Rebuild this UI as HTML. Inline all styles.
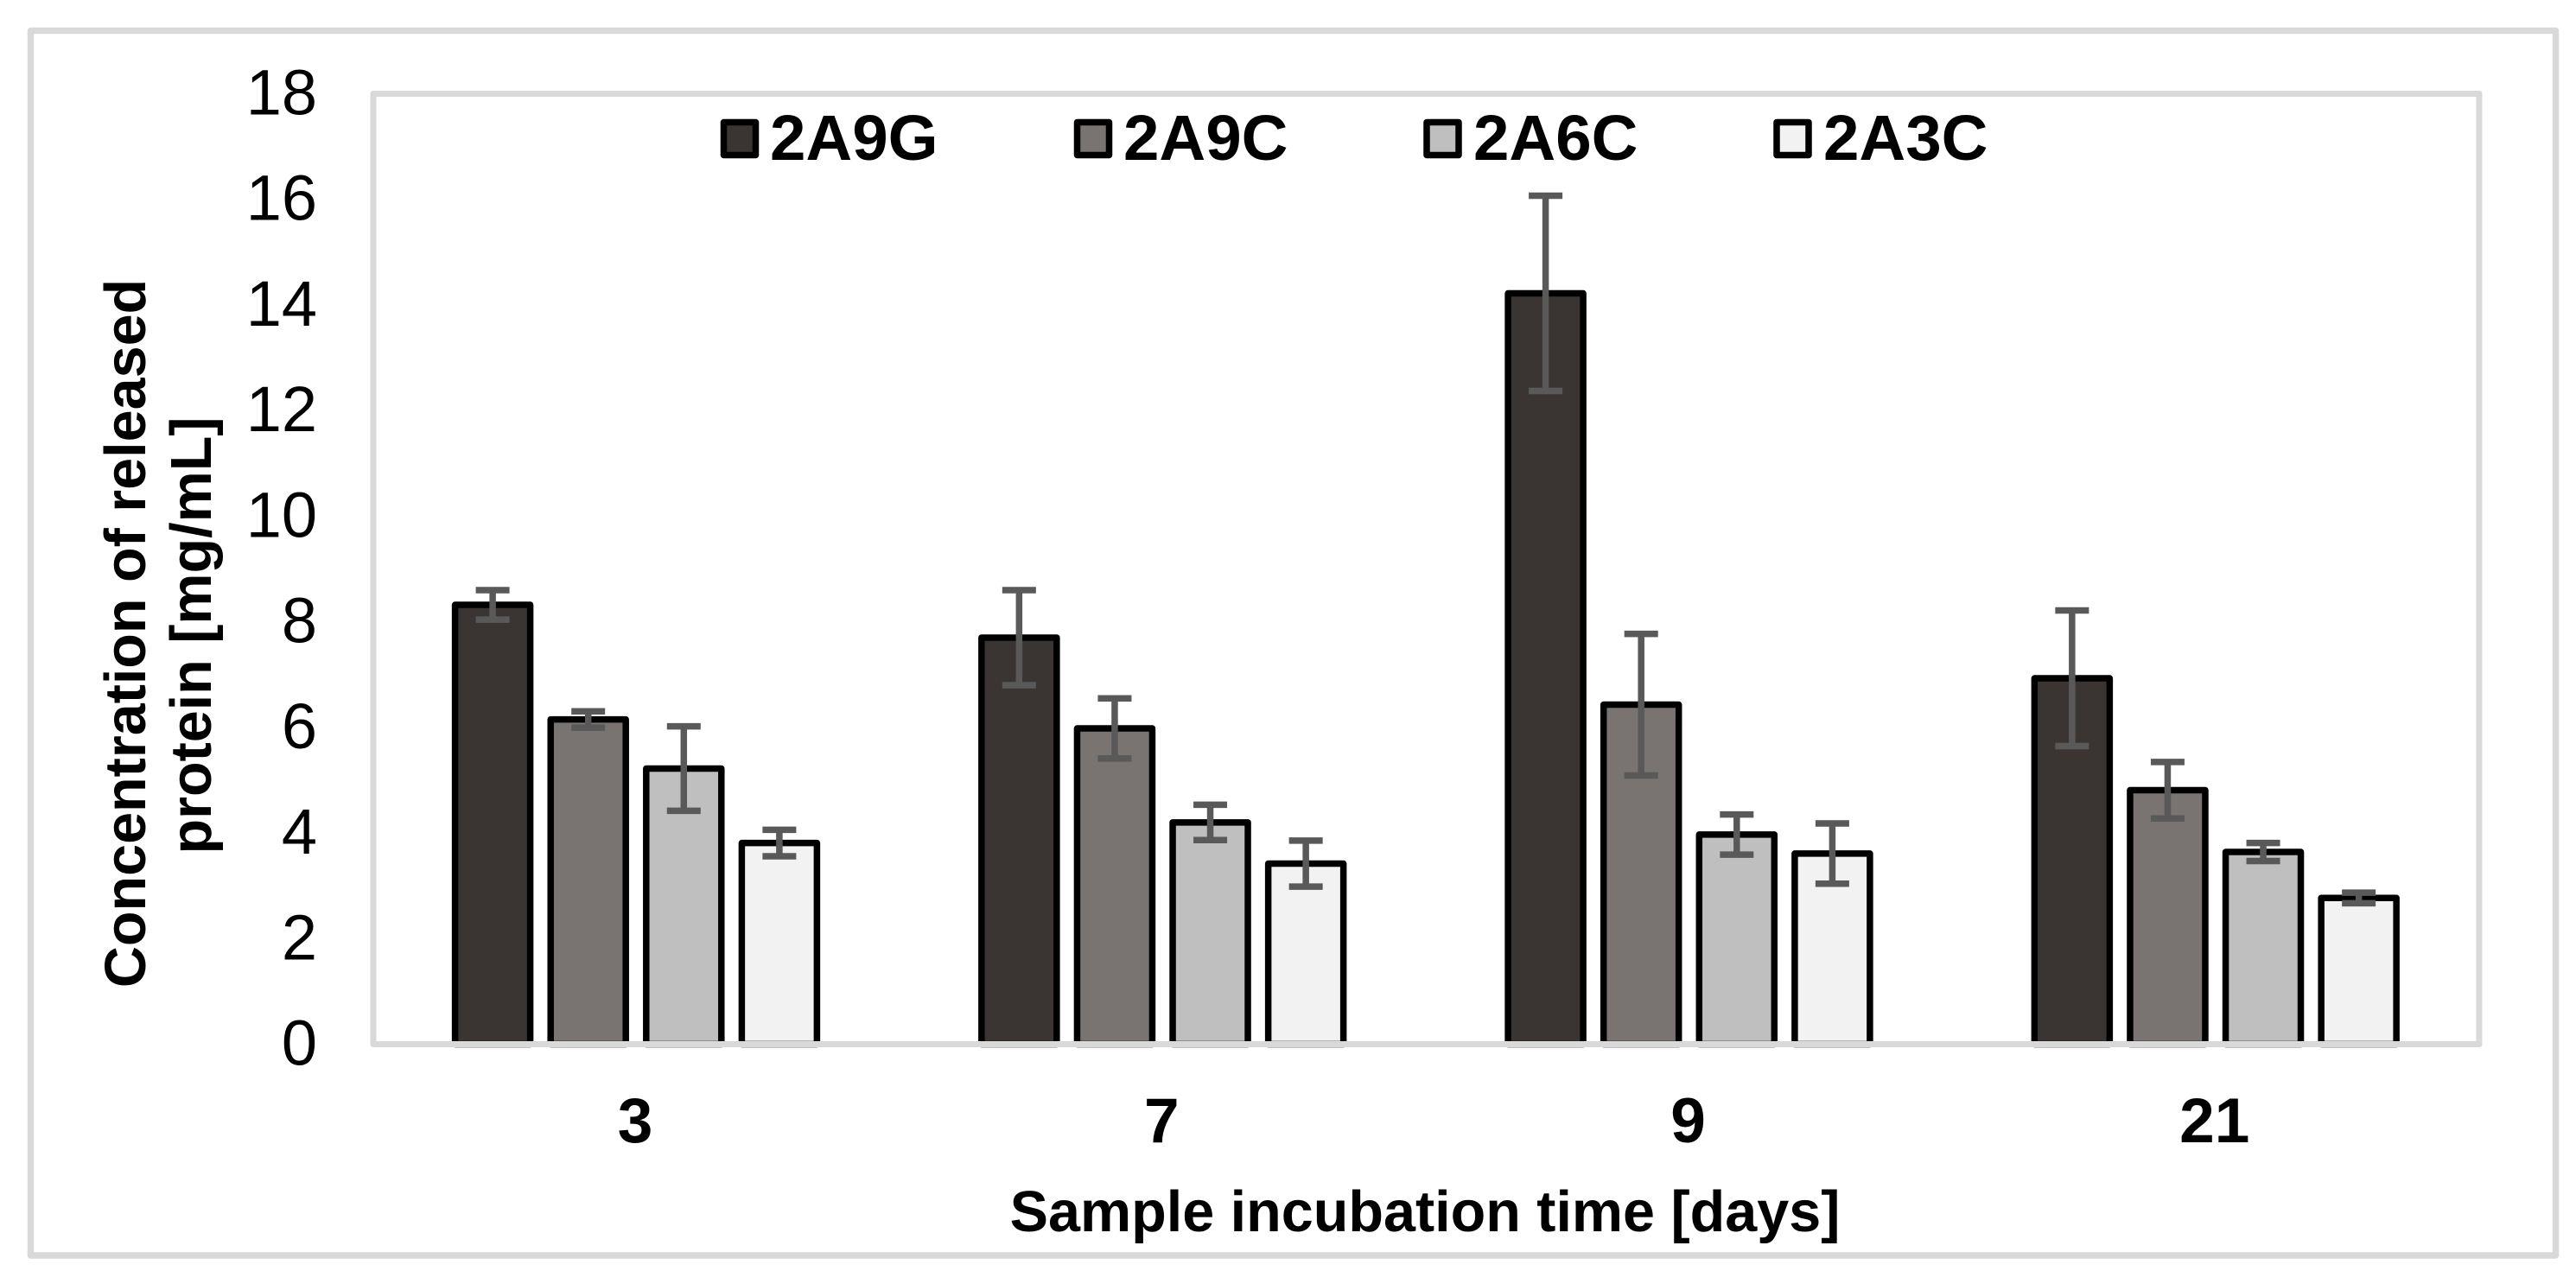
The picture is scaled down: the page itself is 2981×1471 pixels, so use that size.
<!DOCTYPE html>
<html lang="en">
<head>
<meta charset="utf-8">
<title>Concentration of released protein</title>
<style>
  html, body { margin: 0; padding: 0; background: #fff; }
  body { width: 2981px; height: 1471px; overflow: hidden; }
  svg { display: block; font-family: "Liberation Sans", sans-serif; }
</style>
</head>
<body>
<svg id="chart" xmlns="http://www.w3.org/2000/svg" width="2981" height="1471" viewBox="0 0 2981 1471">
  <rect x="0" y="0" width="2981" height="1471" fill="#ffffff"/>
  <rect x="35.5" y="35.5" width="2922" height="1417.5" fill="none" stroke="#d9d9d9" stroke-width="7.5" stroke-linejoin="round"/>
  <g id="y-ticks"></g>
  <g id="bars"></g>
  <rect x="432" y="108.5" width="2437" height="1100" fill="none" stroke="#d9d9d9" stroke-width="7" stroke-linejoin="round"/>
  <g id="errors"></g>
  <g id="x-ticks"></g>

  <g font-size="74.5" font-weight="bold" fill="#000">
    <g>
      <rect x="837.5" y="141.5" width="37" height="38" fill="#3a3533" stroke="#000" stroke-width="7.5" stroke-linejoin="round"/>
      <text x="891" y="185">2A9G</text>
    </g>
    <g>
      <rect x="1246.5" y="141.5" width="37" height="38" fill="#797372" stroke="#000" stroke-width="7.5" stroke-linejoin="round"/>
      <text x="1300" y="185">2A9C</text>
    </g>
    <g>
      <rect x="1651" y="141.5" width="37" height="38" fill="#bfbfbf" stroke="#000" stroke-width="7.5" stroke-linejoin="round"/>
      <text x="1705" y="185">2A6C</text>
    </g>
    <g>
      <rect x="2056" y="141.5" width="37" height="38" fill="#f2f2f2" stroke="#000" stroke-width="7.5" stroke-linejoin="round"/>
      <text x="2110" y="185">2A3C</text>
    </g>
  </g>

  <g font-size="66.5" font-weight="bold" fill="#000" text-anchor="middle">
    <text transform="translate(168 733) rotate(-90)">Concentration of released</text>
    <text transform="translate(244 735.5) rotate(-90)">protein [mg/mL]</text>
  </g>
  <text x="1649" y="1425" font-size="66.5" font-weight="bold" fill="#000" text-anchor="middle">Sample incubation time [days]</text>
</svg>
<script>
const categories = ['3', '7', '9', '21'];
const yTickValues = [0, 2, 4, 6, 8, 10, 12, 14, 16, 18];
const seriesNames = ['2a9g', '2a9c', '2a6c', '2a3c'];
const seriesColors = ['#3a3533', '#797372', '#bfbfbf', '#f2f2f2'];

const values2A9G = [8.32, 7.70, 14.22, 6.93];
const values2A9C = [6.15, 5.98, 6.43, 4.81];
const values2A6C = [5.22, 4.20, 3.97, 3.64];
const values2A3C = [3.81, 3.42, 3.61, 2.77];

const errors2A9G = [0.28, 0.90, 1.85, 1.285];
const errors2A9C = [0.155, 0.57, 1.34, 0.535];
const errors2A6C = [0.80, 0.335, 0.38, 0.17];
const errors2A3C = [0.25, 0.435, 0.57, 0.10];

const SVG_NS = 'http://www.w3.org/2000/svg';
const seriesValues = [values2A9G, values2A9C, values2A6C, values2A3C];
const seriesErrors = [errors2A9G, errors2A9C, errors2A6C, errors2A3C];

function yScale(v) { return 1208.5 - v * (1100 / 18); }
function groupCenter(i) { return 736 + i * 609.25; }
function barCenter(i, s) { return groupCenter(i) + (s - 1.5) * 110.6; }

function make(tag, attrs, parent) {
  const el = document.createElementNS(SVG_NS, tag);
  for (const k in attrs) el.setAttribute(k, attrs[k]);
  parent.appendChild(el);
  return el;
}

const yTickGroup = document.getElementById('y-ticks');
yTickValues.forEach(function (t) {
  const label = make('text', { x: 367, y: yScale(t) + 24, 'font-size': 74, fill: '#000', 'text-anchor': 'end' }, yTickGroup);
  
  
  label.textContent = String(t);
});

const xTickGroup = document.getElementById('x-ticks');
categories.forEach(function (c, i) {
  const label = make('text', { x: groupCenter(i) - 1, y: 1322, 'font-size': 73, 'font-weight': 'bold', fill: '#000', 'text-anchor': 'middle' }, xTickGroup);
  
  
  label.textContent = c;
});

const barGroup = document.getElementById('bars');
const errorGroup = document.getElementById('errors');
const barWidth = 87;
const capHalf = 19.5;

seriesValues.forEach(function (vals, s) {
  vals.forEach(function (v, i) {
    const cx = barCenter(i, s);
    const top = yScale(v);
    const bar = make('rect', {
      x: cx - barWidth / 2, y: top, width: barWidth, height: yScale(0) - top,
      fill: seriesColors[s], stroke: '#000', 'stroke-width': 7.5, 'stroke-linejoin': 'round'
    }, barGroup);
    
    
    bar.setAttribute('aria-label', seriesNames[s] + ' day ' + categories[i]);

    const e = seriesErrors[s][i];
    const yHi = yScale(v + e);
    const yLo = yScale(v - e);
    const err = make('path', {
      d: 'M' + (cx - capHalf) + ' ' + yHi + 'H' + (cx + capHalf) +
         'M' + cx + ' ' + yHi + 'V' + yLo +
         'M' + (cx - capHalf) + ' ' + yLo + 'H' + (cx + capHalf),
      fill: 'none', stroke: '#595959', 'stroke-width': 7.5
    }, errorGroup);
    
    
  });
});
</script>
</body>
</html>
